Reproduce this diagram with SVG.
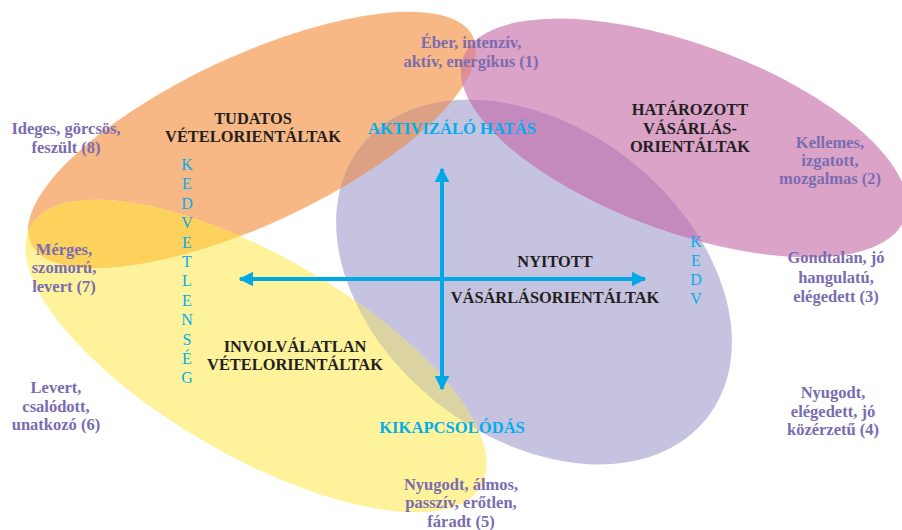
<svg xmlns="http://www.w3.org/2000/svg" width="902" height="530" viewBox="0 0 902 530">
  <defs>
    <!-- Shared ellipse geometry -->
    <ellipse id="shape-orange" cx="252" cy="140" rx="244" ry="84" transform="rotate(-25 252 140)"/>
    <ellipse id="shape-pink" cx="684" cy="138" rx="235" ry="94" transform="rotate(20 684 138)"/>
    <ellipse id="shape-lavender" cx="534" cy="282" rx="220" ry="155" transform="rotate(38 534 282)"/>
    <ellipse id="shape-yellow" cx="256" cy="356" rx="260" ry="100" transform="rotate(30 256 356)"/>
    <clipPath id="clip-orange"><use href="#shape-orange"/></clipPath>
    <clipPath id="clip-pink"><use href="#shape-pink"/></clipPath>
    <clipPath id="clip-lavender"><use href="#shape-lavender"/></clipPath>
    <marker id="arrowhead" viewBox="0 0 10 10" refX="9" refY="5" markerWidth="3.6" markerHeight="3.6" orient="auto-start-reverse" markerUnits="strokeWidth">
      <path d="M0,0 L10,5 L0,10 z" fill="#00A9E6"/>
    </marker>
    <style>
      .mood { fill: #7A6CB0; font-size: 16.5px; }
      .segment { fill: #231F20; font-size: 16.4px; }
      .axis { fill: #00AEEF; font-size: 16.6px; }
      .axis-v { fill: #00AEEF; font-size: 16px; font-weight: normal; }
      .axis-line { stroke: #00A9E6; stroke-width: 4; fill: none; marker-start: url(#arrowhead); marker-end: url(#arrowhead); }
    </style>
  </defs>

  <rect width="902" height="530" fill="#FFFFFF"/>

  <!-- Segment areas -->
  <g id="areas">
    <use href="#shape-orange" fill="#F8B886"/>
    <use href="#shape-pink" fill="#DCA3C8"/>
    <use href="#shape-lavender" fill="#C6C3E0"/>
    <use href="#shape-yellow" fill="#FEF39A"/>
    <!-- overlaps -->
    <use href="#shape-yellow" fill="#FCD15C" clip-path="url(#clip-orange)"/>
    <use href="#shape-lavender" fill="#DCA184" clip-path="url(#clip-orange)"/>
    <use href="#shape-pink" fill="#DF8E98" clip-path="url(#clip-orange)"/>
    <use href="#shape-lavender" fill="#C58ABD" clip-path="url(#clip-pink)"/>
    <use href="#shape-yellow" fill="#DBD4A2" clip-path="url(#clip-lavender)"/>
  </g>

  <!-- Axes -->
  <g id="connectors">
    <line class="axis-line" x1="240" y1="279" x2="645" y2="279"/>
    <line class="axis-line" x1="442" y1="169" x2="442" y2="389"/>
  </g>

  <g font-family="Liberation Serif, Times New Roman, serif" font-weight="bold" text-anchor="middle">
  <g id="axis-top"><text class="axis" x="452" y="134">AKTIVIZÁLÓ HATÁS</text></g>
  <g id="axis-bottom"><text class="axis" x="452" y="433">KIKAPCSOLÓDÁS</text></g>
  <g id="axis-left">
    <text class="axis-v" x="187" y="170">K</text>
    <text class="axis-v" x="187" y="189.4">E</text>
    <text class="axis-v" x="187" y="208.8">D</text>
    <text class="axis-v" x="187" y="228.2">V</text>
    <text class="axis-v" x="187" y="247.6">E</text>
    <text class="axis-v" x="187" y="267">T</text>
    <text class="axis-v" x="187" y="286.4">L</text>
    <text class="axis-v" x="187" y="305.8">E</text>
    <text class="axis-v" x="187" y="325.2">N</text>
    <text class="axis-v" x="187" y="344.6">S</text>
    <text class="axis-v" x="187" y="364">É</text>
    <text class="axis-v" x="187" y="383.4">G</text>
  </g>
  <g id="axis-right">
    <text class="axis-v" x="696" y="247">K</text>
    <text class="axis-v" x="696" y="266">E</text>
    <text class="axis-v" x="696" y="285">D</text>
    <text class="axis-v" x="696" y="304">V</text>
  </g>

  <!-- Segment labels -->
  <g id="segment-tudatos">
    <text class="segment" x="253" y="124">TUDATOS</text>
    <text class="segment" x="253" y="142">VÉTELORIENTÁLTAK</text>
  </g>
  <g id="segment-hatarozott">
    <text class="segment" x="690" y="115">HATÁROZOTT</text>
    <text class="segment" x="690" y="134">VÁSÁRLÁS-</text>
    <text class="segment" x="690" y="152">ORIENTÁLTAK</text>
  </g>
  <g id="segment-nyitott">
    <text class="segment" x="555" y="267">NYITOTT</text>
    <text class="segment" x="555" y="303">VÁSÁRLÁSORIENTÁLTAK</text>
  </g>
  <g id="segment-involvalatlan">
    <text class="segment" x="295" y="352">INVOLVÁLATLAN</text>
    <text class="segment" x="295" y="370">VÉTELORIENTÁLTAK</text>
  </g>

  <!-- Mood labels -->
  <g id="mood-1">
    <text class="mood" x="471" y="48">Éber, intenzív,</text>
    <text class="mood" x="471" y="67">aktív, energikus (1)</text>
  </g>
  <g id="mood-2">
    <text class="mood" x="830" y="148">Kellemes,</text>
    <text class="mood" x="830" y="166">izgatott,</text>
    <text class="mood" x="830" y="184">mozgalmas (2)</text>
  </g>
  <g id="mood-3">
    <text class="mood" x="836" y="263">Gondtalan, jó</text>
    <text class="mood" x="836" y="283">hangulatú,</text>
    <text class="mood" x="836" y="302">elégedett (3)</text>
  </g>
  <g id="mood-4">
    <text class="mood" x="833" y="398">Nyugodt,</text>
    <text class="mood" x="833" y="417">elégedett, jó</text>
    <text class="mood" x="833" y="435">közérzetű (4)</text>
  </g>
  <g id="mood-5">
    <text class="mood" x="461" y="490">Nyugodt, álmos,</text>
    <text class="mood" x="461" y="508">passzív, erőtlen,</text>
    <text class="mood" x="461" y="527">fáradt (5)</text>
  </g>
  <g id="mood-6">
    <text class="mood" x="56" y="393">Levert,</text>
    <text class="mood" x="56" y="412">csalódott,</text>
    <text class="mood" x="56" y="430">unatkozó (6)</text>
  </g>
  <g id="mood-7">
    <text class="mood" x="64" y="255">Mérges,</text>
    <text class="mood" x="64" y="273">szomorú,</text>
    <text class="mood" x="64" y="292">levert (7)</text>
  </g>
  <g id="mood-8">
    <text class="mood" x="66" y="134">Ideges, görcsös,</text>
    <text class="mood" x="66" y="153">feszült (8)</text>
  </g>
  </g>
</svg>
